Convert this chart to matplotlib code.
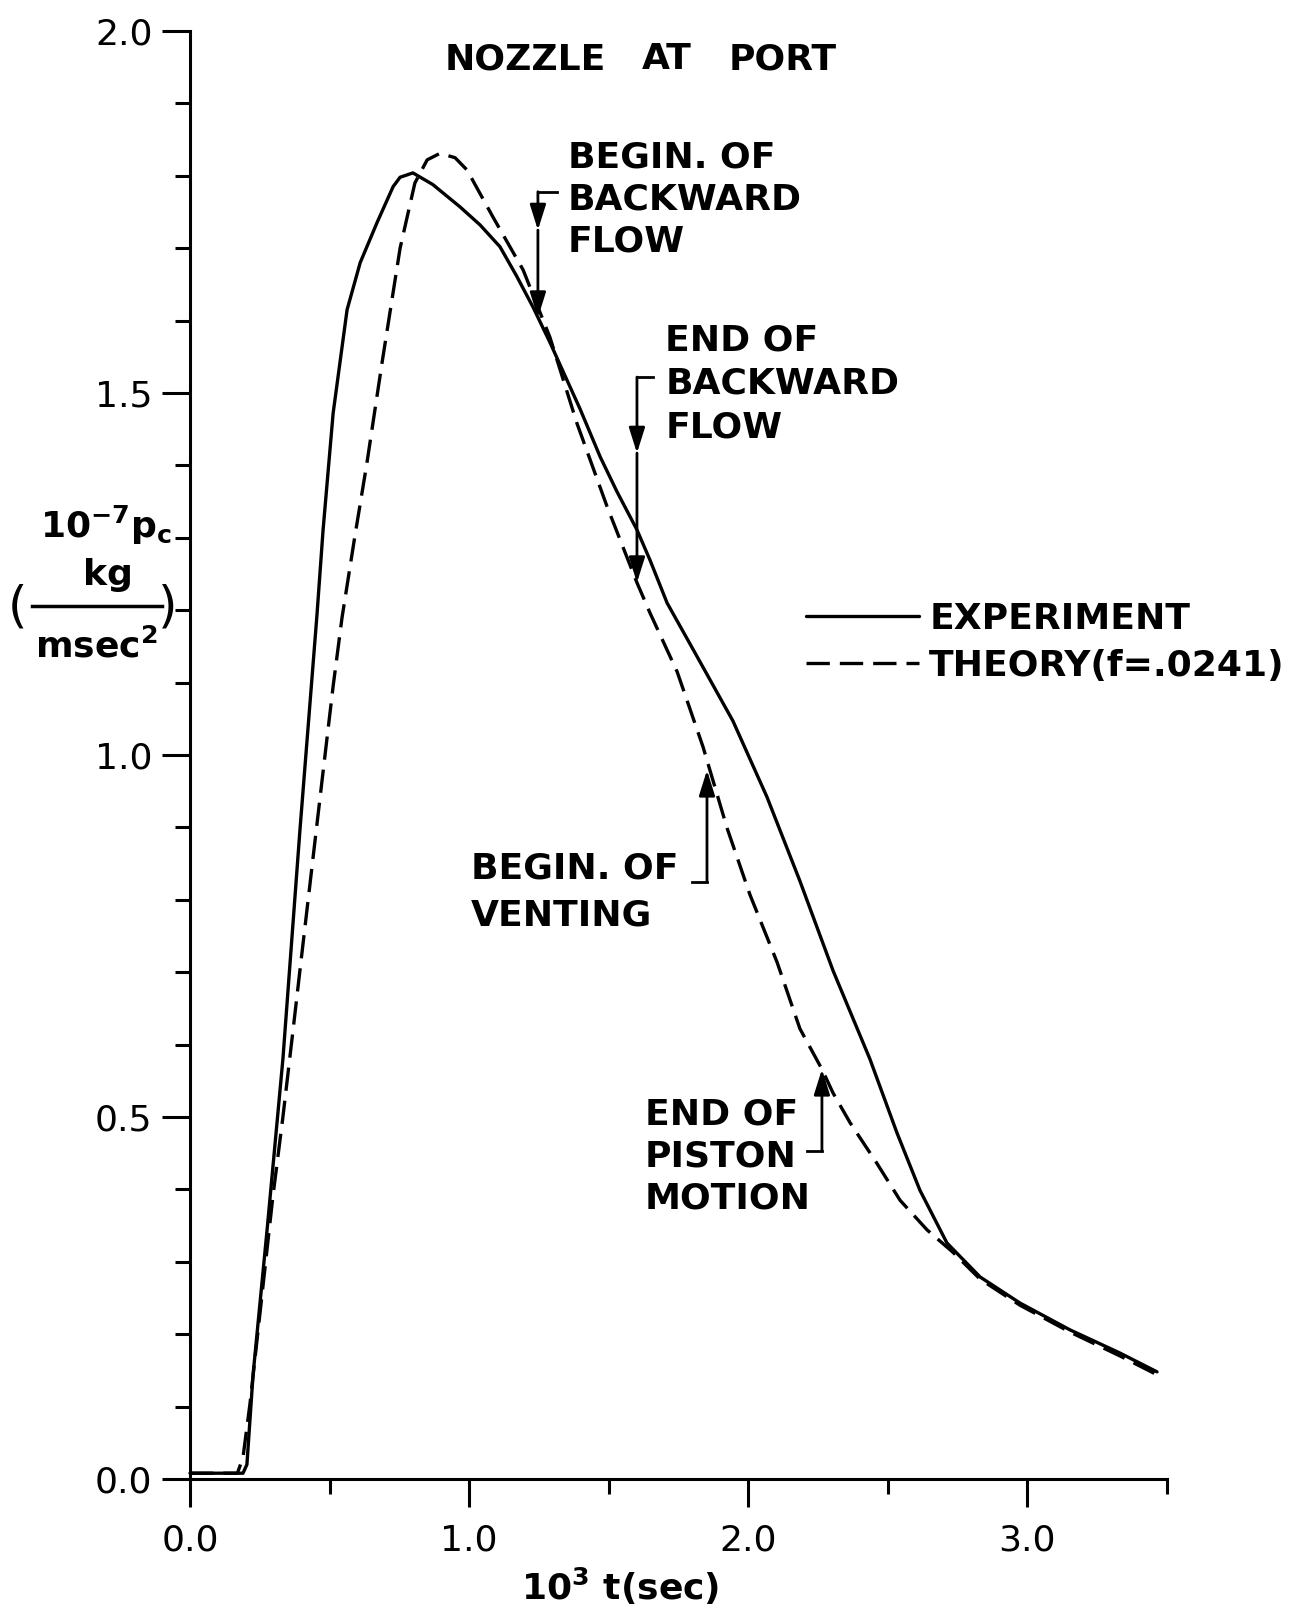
import numpy as np
import matplotlib
matplotlib.use("Agg")
import matplotlib.pyplot as plt
from matplotlib.lines import Line2D

# experiment (solid) - 10^3 t (sec) vs 10^-7 p_c
exp_t = [0.0, 0.19, 0.204, 0.226, 0.276, 0.333, 0.394, 0.455, 0.477, 0.513,
         0.563, 0.61, 0.67, 0.728, 0.753, 0.799, 0.87, 0.968, 1.04, 1.111,
         1.17, 1.229, 1.29, 1.351, 1.398, 1.47, 1.53, 1.602, 1.649, 1.71,
         1.803, 1.946, 2.068, 2.186, 2.305, 2.437, 2.534, 2.616, 2.713, 2.832,
         2.975, 3.154, 3.333, 3.466]
exp_p = [0.008, 0.008, 0.02, 0.144, 0.343, 0.58, 0.896, 1.193, 1.311, 1.472,
         1.615, 1.68, 1.735, 1.785, 1.798, 1.804, 1.788, 1.757, 1.732, 1.702,
         1.662, 1.619, 1.57, 1.518, 1.478, 1.412, 1.364, 1.311, 1.269, 1.21,
         1.146, 1.047, 0.942, 0.826, 0.702, 0.58, 0.478, 0.399, 0.326, 0.279,
         0.243, 0.206, 0.174, 0.148]

# theory (dashed), f = .0241
th_t = [0.0, 0.17, 0.19, 0.215, 0.297, 0.333, 0.369, 0.405, 0.441, 0.477,
        0.513, 0.545, 0.59, 0.634, 0.688, 0.753, 0.806, 0.85, 0.896, 0.95,
        0.993, 1.086, 1.194, 1.29, 1.387, 1.495, 1.602, 1.649, 1.746, 1.839,
        1.925, 2.007, 2.104, 2.186, 2.265, 2.305, 2.366, 2.462, 2.545, 2.642,
        2.735, 2.832, 2.975, 3.154, 3.333, 3.466]
th_p = [0.008, 0.008, 0.03, 0.104, 0.39, 0.5, 0.619, 0.739, 0.858, 0.977,
        1.095, 1.19, 1.30, 1.403, 1.541, 1.70, 1.79, 1.822, 1.831, 1.825,
        1.808, 1.743, 1.67, 1.577, 1.458, 1.343, 1.238, 1.196, 1.115, 1.011,
        0.899, 0.807, 0.714, 0.622, 0.566, 0.533, 0.492, 0.436, 0.385, 0.344,
        0.313, 0.276, 0.240, 0.203, 0.170, 0.144]

x_major = [0.0, 1.0, 2.0, 3.0]
x_minor = [0.5, 1.5, 2.5, 3.5]
y_major = [0.0, 0.5, 1.0, 1.5, 2.0]
y_minor = [0.1, 0.2, 0.3, 0.4, 0.6, 0.7, 0.8, 0.9, 1.1, 1.2, 1.3, 1.4,
           1.6, 1.7, 1.8, 1.9]

plt.rcParams["font.family"] = ["DejaVu Sans"]
plt.rcParams["mathtext.fontset"] = "custom"
plt.rcParams["mathtext.rm"] = "DejaVu Sans:bold"
plt.rcParams["mathtext.default"] = "rm"

W, H = 1297, 1610
fig = plt.figure(figsize=(W / 100, H / 100), dpi=100)
ax = fig.add_axes([190 / W, 1 - 1479 / H, 976.5 / W, 1448 / H])

lw = 2.4
ax.plot(exp_t, exp_p, color="k", lw=lw, solid_capstyle="round",
        solid_joinstyle="round", clip_on=False, label="EXPERIMENT")
ax.plot(th_t, th_p, color="k", lw=lw, linestyle=(0, (7, 3)),
        clip_on=False, label="THEORY(f=.0241)")

ax.set_xlim(0, 3.5)
ax.set_ylim(0, 2.0)
ax.spines["top"].set_visible(False)
ax.spines["right"].set_visible(False)
for s in ("left", "bottom"):
    ax.spines[s].set_linewidth(2.2)

ax.set_xticks(x_major)
ax.set_xticklabels(["%.1f" % v for v in x_major])
ax.set_xticks(x_minor, minor=True)
ax.set_yticks(y_major)
ax.set_yticklabels(["%.1f" % v for v in y_major])
ax.set_yticks(y_minor, minor=True)
ax.tick_params(which="major", direction="out", length=20, width=2.2,
               labelsize=26)
ax.tick_params(which="minor", direction="out", length=11, width=2.2)
ax.tick_params(axis="x", which="major", pad=12)
ax.tick_params(axis="y", which="major", pad=7)

tkw = dict(fontsize=26, fontweight="bold", color="k")

# title, words spaced out like the lettering in the original
for word, xw in (("NOZZLE", 0.914), ("AT", 1.62), ("PORT", 1.932)):
    ax.text(xw, 1.947, word, ha="left", va="baseline", **tkw)


def note(x, y0, lines, step=0.058):
    for i, s in enumerate(lines):
        ax.text(x, y0 - i * step, s, ha="left", va="baseline", **tkw)


arrow = dict(arrowstyle="-|>,head_length=0.7,head_width=0.22", color="k",
             lw=2.0, mutation_scale=22, shrinkA=0, shrinkB=0)


def pointer(x, y_from, y_to, x_corner, y_mid=None):
    ax.plot([x_corner, x], [y_from, y_from], color="k", lw=2.0)
    if y_mid is not None:
        ax.annotate("", xy=(x, y_mid), xytext=(x, y_from), arrowprops=arrow)
        ax.annotate("", xy=(x, y_to), xytext=(x, y_mid), arrowprops=arrow)
    else:
        ax.annotate("", xy=(x, y_to), xytext=(x, y_from), arrowprops=arrow)


note(1.355, 1.811, ["BEGIN. OF", "BACKWARD", "FLOW"])
pointer(1.247, 1.778, 1.604, 1.315, y_mid=1.725)

note(1.703, 1.559, ["END OF", "BACKWARD", "FLOW"], step=0.06)
pointer(1.602, 1.522, 1.238, 1.659, y_mid=1.417)

note(1.007, 0.829, ["BEGIN. OF", "VENTING"], step=0.064)
pointer(1.853, 0.825, 0.979, 1.799)

note(1.631, 0.490, ["END OF", "PISTON", "MOTION"], step=0.058)
pointer(2.265, 0.453, 0.566, 2.211)

leg = ax.legend(loc="upper left", bbox_to_anchor=(806 / W, 1 - 602 / H),
                bbox_transform=fig.transFigure, frameon=False, borderpad=0,
                borderaxespad=0, handlelength=3.13, handletextpad=0.28,
                labelspacing=0.36, prop=dict(size=26, weight="bold"))
for h in leg.legend_handles:
    h.set_linewidth(lw)

# y axis label
fig.text(106 / W, 1 - 538 / H, r"10$^{-7}$p$_c$", ha="center", va="baseline",
         **tkw)
fig.text(108 / W, 1 - 585 / H, "kg", ha="center", va="baseline", **tkw)
fig.add_artist(Line2D([32 / W, 162 / W], [1 - 606 / H, 1 - 606 / H],
                      color="k", lw=2.5))
fig.text(96 / W, 1 - 657 / H, r"msec$^2$", ha="center", va="baseline", **tkw)
fig.text(17 / W, 1 - 607 / H, "(", ha="center", va="center", fontsize=36)
fig.text(168 / W, 1 - 607 / H, ")", ha="center", va="center", fontsize=36)

# x axis label
fig.text(620 / W, 1 - 1600 / H, r"10$^3$ t(sec)", ha="center",
         va="baseline", **tkw)

fig.savefig("out.png", dpi=100)
